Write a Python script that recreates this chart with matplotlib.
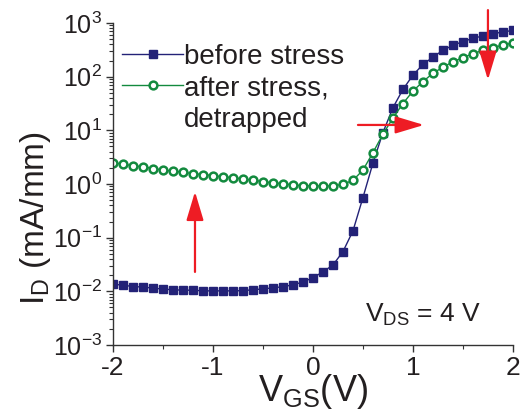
import numpy as np
import matplotlib
matplotlib.use("Agg")
import matplotlib.pyplot as plt
from matplotlib.ticker import LogLocator, MultipleLocator, LogFormatterSciNotation

plt.rcParams['font.family'] = ['Liberation Sans', 'DejaVu Sans']
plt.rcParams['mathtext.fontset'] = 'custom'
plt.rcParams['mathtext.rm'] = 'Liberation Sans'
plt.rcParams['mathtext.it'] = 'Liberation Sans:italic'
plt.rcParams['mathtext.bf'] = 'Liberation Sans:bold'

# ---- data ----
vgs = [round(-2.0 + 0.1 * i, 1) for i in range(41)]

id_before = [0.0136, 0.0130, 0.0123, 0.0120, 0.0115, 0.0110, 0.0107, 0.0105, 0.0105, 0.0102,
             0.0102, 0.0102, 0.0102, 0.0103, 0.0107, 0.0111, 0.0116, 0.0122, 0.0132, 0.0149,
             0.018, 0.023, 0.031, 0.055, 0.134, 0.56, 2.46, 9.1, 26.5, 58,
             107, 169, 232, 310, 385, 450, 520, 573, 632, 680,
             730]

id_after = [2.50, 2.34, 2.20, 2.09, 1.94, 1.83, 1.73, 1.66, 1.56, 1.50,
            1.44, 1.36, 1.32, 1.24, 1.18, 1.11, 1.05, 1.02, 0.96, 0.93,
            0.92, 0.92, 0.92, 0.99, 1.17, 1.82, 3.85, 8.5, 17.0, 31.6,
            54, 81, 116, 150, 190, 226, 269, 309, 347, 390,
            424]

labels = ['before stress', 'after stress,']
label_extra = 'detrapped'

# arrows: (x_start, y_start, x_end, y_end) in data units
arrows = [(-1.18, 0.023, -1.18, 0.72),
          (0.45, 12.6, 1.11, 12.6),
          (1.75, 1740, 1.75, 87)]

navy = '#232277'
green = '#138a3e'
red = '#ee1c24'
txt = '#231f20'

fig = plt.figure(figsize=(5.31, 4.11), dpi=100)
ax = fig.add_axes([0.2128, 0.1606, 0.966 - 0.2128, 0.944 - 0.1606])

ax.plot(vgs, id_before, color=navy, lw=1.0, marker='s', ms=5.8, mfc=navy, mec=navy,
        label=labels[0])
ax.plot(vgs, id_after, color=green, lw=1.0, marker='o', ms=5.6, mfc='white', mec=green,
        mew=1.8, label=labels[1])

ax.set_yscale('log')
ax.set_xlim(-2, 2)
ax.set_ylim(1e-3, 1e3)

ax.spines['top'].set_visible(False)
ax.spines['right'].set_visible(False)
for s in ['left', 'bottom']:
    ax.spines[s].set_linewidth(1.0)
    ax.spines[s].set_color('#333333')

ax.xaxis.set_major_locator(MultipleLocator(1))
ax.xaxis.set_minor_locator(MultipleLocator(0.5))
ax.yaxis.set_major_locator(LogLocator(base=10, numticks=20))
ax.yaxis.set_minor_locator(LogLocator(base=10, subs=np.arange(2, 10), numticks=20))
ax.yaxis.set_major_formatter(LogFormatterSciNotation())
ax.set_xticks([-2, -1, 0, 1, 2])
ax.set_xticklabels(['-2', '-1', '0', '1', '2'])

ax.tick_params(axis='both', which='major', direction='out', length=5, width=1,
               color='#333333', labelsize=18, pad=3, labelcolor=txt)
ax.tick_params(axis='x', which='major', labelsize=19)
ax.tick_params(axis='both', which='minor', direction='out', length=3, width=0.8,
               color='#333333')

ax.set_xlabel(r'V$_{\mathrm{GS}}$(V)', fontsize=26, labelpad=-6, color=txt)
ax.set_ylabel(r'I$_{\mathrm{D}}$ (mA/mm)', fontsize=24, color=txt)
ax.yaxis.set_label_coords(-0.15, 0.395)

ax.text(0.63, 0.092, r'V$_{\mathrm{DS}}$ = 4 V', transform=ax.transAxes, fontsize=19,
        color=txt, va='center', ha='left')

for (x0, y0, x1, y1) in arrows:
    ax.annotate('', xy=(x1, y1), xytext=(x0, y0), annotation_clip=False,
                arrowprops=dict(arrowstyle='-|>,head_length=1.1,head_width=0.33',
                                color=red, lw=1.6, mutation_scale=16,
                                shrinkA=0, shrinkB=0))

leg = ax.legend(loc='upper left', bbox_to_anchor=(0.0225, 0.936), frameon=False,
                fontsize=20, handlelength=2.2, handletextpad=0.03, labelspacing=0.2,
                borderaxespad=0.0, borderpad=0.0)
for t in leg.get_texts():
    t.set_color(txt)

# second line of the second legend entry
ax.text((184 - 113) / 400, (345 - 120) / 322, label_extra, transform=ax.transAxes,
        fontsize=20, color=txt, va='center', ha='left')

fig.savefig('out.png', dpi=100)
